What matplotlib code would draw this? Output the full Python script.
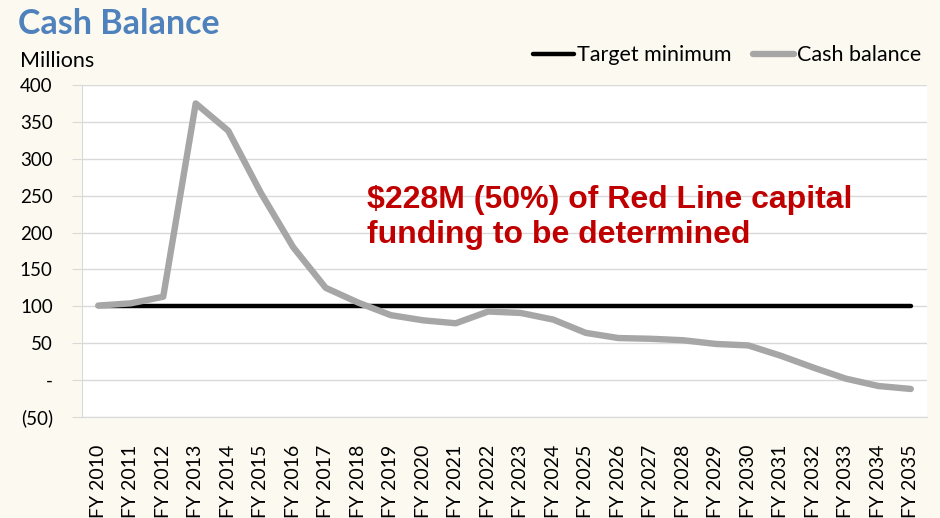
import numpy as np
import matplotlib
matplotlib.use("Agg")
import matplotlib.pyplot as plt
from matplotlib.ticker import FuncFormatter

years = ["FY 2010", "FY 2011", "FY 2012", "FY 2013", "FY 2014", "FY 2015", "FY 2016",
         "FY 2017", "FY 2018", "FY 2019", "FY 2020", "FY 2021", "FY 2022", "FY 2023",
         "FY 2024", "FY 2025", "FY 2026", "FY 2027", "FY 2028", "FY 2029", "FY 2030",
         "FY 2031", "FY 2032", "FY 2033", "FY 2034", "FY 2035"]
cash_balance = [101, 104, 113, 375, 338, 254, 180, 125, 105, 88, 81, 77, 93, 91,
                82, 64, 57, 56, 54, 49, 47, 33, 17, 2, -8, -12]
target_minimum = [100] * len(years)
yticks = [400, 350, 300, 250, 200, 150, 100, 50, 0, -50]

plt.rcParams['font.family'] = ['Lato', 'DejaVu Sans']

def fmt(v, pos):
    if v == 0:
        return "-"
    if v < 0:
        return "(%d)" % abs(v)
    return "%d" % v

fig = plt.figure(figsize=(9.4, 5.18), dpi=100, facecolor="#fcfaf0")
ax = fig.add_axes([0.0872, 0.195, 0.899, 0.641])
ax.set_facecolor("white")

x = np.arange(len(years))
ax.plot(x, target_minimum, color="black", lw=3.2, solid_capstyle="round",
        label="Target minimum", zorder=3)
ax.plot(x, cash_balance, color="#a6a6a6", lw=4.6, solid_capstyle="round",
        solid_joinstyle="round", label="Cash balance", zorder=4)

ax.set_xlim(-0.5, len(years) - 0.5)
ax.set_ylim(-50, 400)
ax.set_yticks(yticks)
ax.yaxis.set_major_formatter(FuncFormatter(fmt))
ax.set_xticks(x)
ax.set_xticklabels(years, rotation=90, fontsize=14)
ax.tick_params(axis="x", length=0, pad=20)
ax.tick_params(axis="y", length=7, color="#d9d9d9", labelsize=13.5, pad=14)
ax.grid(axis="y", color="#d9d9d9", lw=1)
ax.set_axisbelow(True)
for s in ["top", "right"]:
    ax.spines[s].set_visible(False)
ax.spines["left"].set_color("#d9d9d9")
ax.spines["bottom"].set_color("#d9d9d9")

ax.text(0.337, 0.70, "$228M (50%) of Red Line capital\nfunding to be determined",
        transform=ax.transAxes, color="#c00000", fontsize=23, fontweight="bold",
        family="Liberation Sans", va="top", ha="left", linespacing=1.24)

fig.text(0.019, 0.953, "Cash Balance", color="#4f81bd", fontsize=24.5, fontweight="bold",
         va="center", ha="left")
fig.text(0.021, 0.883, "Millions", fontsize=15.5, va="center", ha="left")

fig.legend(loc="center right", bbox_to_anchor=(1.001, 0.893), ncol=2, frameon=False,
           fontsize=15.5, handlelength=1.9, handletextpad=0.15, columnspacing=1.0)

fig.savefig("out.png", dpi=100, facecolor=fig.get_facecolor())
